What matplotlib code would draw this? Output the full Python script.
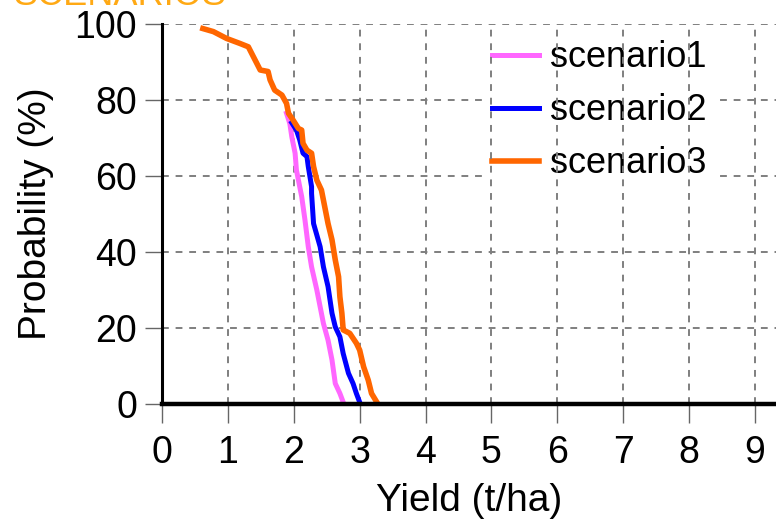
import matplotlib
matplotlib.use('Agg')
import matplotlib.pyplot as plt

plt.rcParams['font.family'] = ['Liberation Sans', 'DejaVu Sans']

# exceedance curves: yield (t/ha) vs probability (%)
s1_yield = [1.89, 1.94, 1.97, 2.02, 2.04, 2.09, 2.12, 2.17, 2.22, 2.27, 2.35, 2.40,
            2.45, 2.52, 2.58, 2.63, 2.70, 2.75]
s1_prob = [76.5, 73.8, 70.3, 66.0, 61.6, 57.2, 54.6, 48.4, 41.4, 36.1, 30.0, 25.6,
           21.2, 16.8, 11.6, 5.4, 2.8, 0.5]

s2_yield = [1.97, 2.04, 2.09, 2.14, 2.20, 2.22, 2.27, 2.27, 2.30, 2.40, 2.45, 2.52,
            2.58, 2.63, 2.70, 2.75, 2.83, 2.90, 2.95, 3.00]
s2_prob = [74.0, 72.1, 69.5, 66.0, 65.1, 62.5, 57.2, 55.4, 47.5, 41.4, 36.1, 30.9,
           23.9, 20.3, 17.7, 13.3, 8.1, 5.4, 2.8, 0.5]

s3_yield = [0.62, 0.78, 0.98, 1.18, 1.31, 1.36, 1.44, 1.49, 1.61, 1.64, 1.71, 1.82,
            1.89, 1.92, 1.99, 2.07, 2.12, 2.14, 2.20, 2.27, 2.30, 2.35, 2.42, 2.47,
            2.52, 2.58, 2.63, 2.68, 2.70, 2.73, 2.75, 2.85, 2.95, 3.00, 3.06, 3.13,
            3.18, 3.26]
s3_prob = [98.8, 98.0, 96.2, 94.9, 94.0, 92.3, 89.6, 87.9, 87.5, 85.3, 82.6, 81.3,
           79.1, 76.5, 74.7, 72.5, 72.1, 68.6, 66.8, 66.0, 62.5, 58.9, 56.3, 51.9,
           47.5, 43.2, 37.9, 33.5, 28.2, 23.9, 19.5, 18.6, 16.0, 14.2, 9.8, 6.3,
           2.8, 0.5]

labels = ['scenario1', 'scenario2', 'scenario3']
x_ticks = list(range(10))
y_ticks = [0, 20, 40, 60, 80, 100]

fig = plt.figure(figsize=(7.76, 5.22), dpi=100)
ax = fig.add_axes([0.2088, 0.226, 0.7912, 0.728])

ax.plot(s1_yield, s1_prob, color='#ff66ff', lw=3.6, label=labels[0], zorder=7)
ax.plot(s2_yield, s2_prob, color='#0000ff', lw=3.6, label=labels[1], zorder=7)
ax.plot(s3_yield, s3_prob, color='#ff6600', lw=4.0, label=labels[2], zorder=8)

ax.set_xlim(0, 9.32)
ax.set_ylim(0, 100)
ax.set_xticks(x_ticks)
ax.set_yticks(y_ticks)

# dashed grid; vertical lines sit above the legend box, horizontal ones below
ax.grid(True, color='#7f7f7f', linestyle=(0, (3.5, 3.5)), linewidth=1.4)
ax.xaxis.set_zorder(6)

for side in ['top', 'right']:
    ax.spines[side].set_visible(False)
ax.spines['bottom'].set_linewidth(3.2)
ax.spines['left'].set_linewidth(2.2)
ax.spines['bottom'].set_zorder(9)
ax.spines['left'].set_zorder(9)
ax.tick_params(axis='x', direction='out', length=14, width=1.0, color='#666666',
               labelsize=27, pad=8)
ax.tick_params(axis='y', direction='out', length=12, width=1.0, color='#666666',
               labelsize=27, pad=6)

ax.set_xlabel('Yield (t/ha)', fontsize=28, labelpad=9)
ax.set_ylabel('Probability (%)', fontsize=28, labelpad=15)

leg = ax.legend(loc='upper left', bbox_to_anchor=(485 / 776, 1 - 33 / 522),
                bbox_transform=fig.transFigure, fontsize=26, frameon=True,
                facecolor='white', edgecolor='none', framealpha=1, fancybox=False,
                handlelength=1.3, handletextpad=0.3, labelspacing=0.5,
                borderpad=0.2, borderaxespad=0)
leg.set_zorder(5)

fig.text(13 / 776, 1 - 5 / 522, 'SCENARIOS', color='#ffa914', fontsize=26,
         ha='left', va='baseline')

fig.savefig('out.png', dpi=100)
